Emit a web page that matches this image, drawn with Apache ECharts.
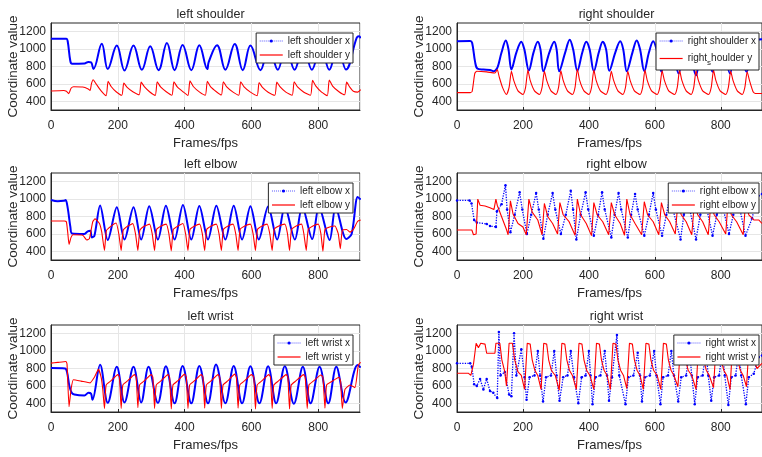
<!DOCTYPE html>
<html>
<head>
<meta charset="utf-8">
<title>Coordinate value</title>
<script src="https://cdn.jsdelivr.net/npm/echarts@6/dist/echarts.min.js"></script>
<style>
  html, body { margin: 0; padding: 0; background: #fff; }
  #main { width: 762px; height: 457px; }
</style>
</head>
<body>
<div id="main"></div>
<script>
// panel titles and legend names
var titles = ['left shoulder', 'right shoulder', 'left elbow', 'right elbow', 'left wrist', 'right wrist'];
var legendNames = [
  ['left shoulder x', 'left shoulder y'],
  ['right shoulder x', 'right_shoulder y'],
  ['left elbow x', 'left elbow y'],
  ['right elbow x', 'right elbow y'],
  ['left wrist x', 'left wrist y'],
  ['right wrist x', 'right wrist y']
];
var yTickLabels = [400, 600, 800, 1000, 1200];
var xTickLabels = [0, 200, 400, 600, 800];

// [frame, value]
var leftShoulderX = [[0,1120],[46,1118],[50,1090],[58,860],[63,832],[100,835],[112,852],[120,848],[127,772],[152,1062],[170,770],[197,1040],[220,755],[247,1040],[272,762],[297,1032],[322,758],[347,1070],[370,758],[394,1047],[420,758],[444,1045],[468,770],[472,850],[497,1045],[522,763],[550,1060],[574,758],[597,1040],[627,758],[652,1040],[679,763],[703,1040],[729,763],[755,1040],[781,763],[808,1040],[833,763],[858,1040],[883,765],[915,1130],[922,1148],[927,1125]];
var leftShoulderY = [[0,518],[38,525],[46,515],[53,488],[60,550],[68,568],[95,565],[110,545],[117,525],[121,600],[126,648],[135,600],[150,520],[165,465],[171,630],[180,570],[195,510],[212,470],[218,610],[228,560],[245,510],[264,475],[270,620],[280,565],[295,510],[312,468],[318,625],[328,565],[345,510],[362,470],[368,625],[378,565],[395,510],[410,468],[416,635],[426,570],[445,505],[462,470],[468,630],[478,565],[495,510],[510,472],[516,625],[526,565],[545,505],[562,470],[568,625],[578,565],[597,505],[617,465],[623,615],[633,560],[650,505],[670,470],[676,620],[686,565],[703,505],[722,470],[728,625],[738,565],[757,505],[777,470],[783,640],[793,575],[810,505],[827,465],[833,645],[843,575],[862,510],[879,475],[885,620],[895,560],[905,515],[918,505],[927,535]];

var rightShoulderX = [[0,1090],[40,1092],[46,1070],[55,850],[62,775],[80,765],[100,760],[112,745],[118,760],[124,800],[135,960],[148,1100],[156,1000],[165,765],[180,960],[195,1085],[204,1000],[218,755],[232,960],[245,1085],[253,1000],[262,745],[280,960],[295,1085],[302,1000],[310,745],[328,960],[342,1108],[352,1000],[365,750],[380,960],[392,1085],[402,1000],[415,745],[430,960],[442,1085],[452,1000],[462,750],[480,960],[495,1090],[504,1000],[515,745],[532,960],[545,1100],[555,1000],[568,745],[582,960],[595,1090],[605,1000],[620,740],[632,960],[645,1090],[655,1000],[672,720],[685,960],[695,1090],[705,1000],[725,700],[737,960],[748,1090],[758,1000],[775,740],[788,960],[800,1090],[810,1000],[828,720],[840,960],[850,1090],[860,1000],[878,740],[895,960],[908,1108],[925,1112]];
var rightShoulderY = [[0,500],[40,500],[46,515],[54,720],[60,745],[90,738],[115,725],[122,765],[128,680],[138,560],[150,478],[158,560],[165,745],[172,640],[185,520],[200,478],[208,560],[215,760],[222,640],[235,520],[250,478],[258,560],[265,745],[272,640],[285,520],[300,478],[308,560],[315,750],[322,640],[335,520],[350,478],[358,560],[365,770],[372,640],[385,520],[400,478],[408,560],[415,760],[422,640],[435,520],[452,478],[460,560],[468,745],[475,640],[488,520],[503,478],[511,560],[518,745],[525,640],[538,520],[555,478],[563,560],[570,760],[577,640],[590,520],[607,478],[615,560],[622,750],[629,640],[642,520],[660,478],[668,560],[675,755],[682,640],[695,520],[710,478],[718,560],[725,750],[732,640],[745,520],[763,478],[771,560],[778,755],[785,640],[798,520],[815,478],[823,560],[830,745],[837,640],[850,520],[865,478],[873,560],[880,740],[887,640],[898,510],[905,490],[925,490]];

var leftElbowX = [[0,990],[20,975],[38,980],[44,990],[50,900],[58,680],[63,605],[100,600],[110,630],[118,635],[122,560],[130,580],[147,926],[170,530],[197,907],[220,535],[247,905],[270,535],[294,918],[320,535],[344,925],[370,535],[395,933],[420,535],[444,920],[470,535],[495,925],[522,535],[547,925],[572,535],[597,918],[622,535],[650,915],[677,535],[700,915],[730,535],[752,915],[782,540],[802,915],[834,530],[852,910],[884,540],[900,600],[918,1025],[927,995]];
var leftElbowY = [[0,748],[40,748],[46,740],[50,620],[54,480],[60,560],[66,590],[95,585],[107,530],[115,545],[125,740],[132,773],[145,720],[152,620],[160,410],[166,640],[180,690],[195,725],[203,600],[210,410],[216,640],[230,690],[245,718],[253,600],[260,410],[266,640],[280,690],[295,712],[303,600],[310,410],[316,650],[330,690],[345,712],[353,600],[360,405],[366,650],[380,690],[395,720],[403,600],[410,410],[416,650],[430,690],[445,712],[453,600],[460,410],[466,650],[480,690],[495,712],[503,600],[510,410],[516,650],[530,690],[545,712],[553,600],[560,410],[566,650],[580,690],[597,712],[605,600],[612,410],[618,650],[632,690],[647,712],[655,600],[662,410],[668,650],[682,690],[700,712],[708,600],[714,410],[720,650],[734,690],[750,712],[757,600],[764,410],[770,650],[784,690],[800,712],[808,600],[814,400],[820,650],[834,680],[850,690],[860,600],[866,430],[872,640],[885,650],[895,620],[905,650],[918,745],[927,760]];

var rightElbowX = [[0,985],[38,985],[44,950],[52,760],[60,730],[90,715],[100,690],[118,680],[121,860],[135,940],[147,1160],[152,880],[162,620],[175,820],[190,1078],[198,880],[212,600],[225,820],[240,1070],[248,880],[262,545],[275,820],[290,1070],[298,880],[315,600],[330,820],[345,1097],[352,880],[362,537],[375,820],[390,1078],[398,880],[415,580],[428,820],[440,1078],[448,880],[468,560],[478,820],[490,1070],[498,880],[518,560],[528,820],[540,1060],[548,880],[568,580],[582,820],[595,1070],[603,880],[622,580],[635,820],[647,1070],[655,880],[678,537],[688,820],[698,1070],[706,880],[725,537],[738,820],[750,1060],[758,880],[775,580],[788,820],[800,1060],[808,880],[825,600],[838,820],[850,1060],[858,880],[875,580],[895,780],[910,1020],[925,1060]];
var rightElbowY = [[0,645],[45,645],[50,590],[58,600],[63,1000],[70,930],[85,920],[100,900],[112,880],[118,1000],[122,930],[135,800],[150,650],[155,590],[162,980],[170,830],[185,720],[200,680],[210,590],[218,1000],[228,850],[245,760],[258,590],[265,950],[275,800],[290,720],[305,600],[312,960],[322,820],[340,740],[358,585],[365,1000],[375,820],[392,720],[408,580],[415,960],[425,820],[442,740],[460,590],[468,960],[478,820],[495,720],[508,585],[515,1000],[525,820],[540,720],[560,590],[568,970],[578,820],[595,740],[612,590],[620,960],[630,820],[645,740],[662,600],[670,970],[680,820],[695,740],[712,590],[720,960],[730,820],[745,740],[762,590],[770,960],[780,820],[795,740],[815,600],[822,970],[832,820],[848,740],[868,590],[875,960],[885,820],[900,760],[915,760],[925,720]];

var leftWristX = [[0,805],[42,800],[48,760],[55,600],[62,520],[70,500],[100,490],[112,520],[120,510],[124,440],[147,842],[170,405],[197,820],[220,410],[247,820],[270,410],[292,820],[320,405],[344,825],[370,400],[394,830],[420,400],[444,830],[470,400],[494,845],[522,400],[547,830],[572,400],[597,825],[624,400],[650,825],[674,400],[700,825],[727,395],[754,820],[777,400],[804,820],[830,400],[854,820],[882,410],[918,840],[927,810]];
var leftWristY = [[0,862],[20,870],[45,880],[48,850],[54,360],[60,560],[67,670],[90,655],[117,635],[130,700],[142,790],[150,700],[155,560],[160,340],[165,610],[180,660],[200,730],[205,700],[210,340],[215,610],[230,660],[250,730],[255,700],[260,350],[265,610],[280,660],[300,730],[305,700],[310,340],[315,610],[330,660],[350,730],[355,700],[360,335],[365,610],[380,660],[400,735],[405,700],[410,340],[415,610],[430,660],[450,730],[455,700],[460,345],[465,610],[480,660],[500,730],[505,700],[510,340],[515,610],[530,660],[550,735],[555,700],[560,345],[565,610],[580,660],[600,730],[607,700],[612,335],[617,610],[632,660],[652,730],[657,700],[662,340],[667,610],[682,660],[704,730],[709,700],[714,335],[719,610],[734,660],[756,730],[761,700],[767,340],[772,610],[787,660],[808,725],[814,700],[820,345],[825,610],[840,650],[862,700],[867,650],[872,340],[880,560],[895,610],[910,580],[920,840],[927,870]];

var rightWristX = [[0,860],[40,860],[45,820],[52,620],[60,600],[70,680],[80,560],[90,680],[100,540],[110,520],[122,460],[127,1220],[132,720],[145,760],[158,500],[165,480],[173,1205],[180,720],[195,1020],[205,700],[211,440],[220,700],[235,720],[245,1000],[252,720],[261,420],[270,700],[285,720],[295,1000],[302,720],[311,430],[322,700],[335,720],[345,1000],[355,700],[368,400],[378,700],[390,720],[400,1000],[405,720],[411,390],[420,700],[435,720],[448,1000],[455,720],[461,430],[470,700],[485,1185],[492,720],[511,390],[520,700],[535,720],[548,980],[555,720],[561,420],[570,700],[585,720],[598,1000],[605,720],[617,390],[625,700],[640,720],[650,1000],[658,720],[671,420],[680,700],[695,720],[705,1000],[712,720],[721,390],[730,700],[745,720],[755,1000],[762,720],[771,430],[780,700],[795,720],[805,1000],[812,720],[823,380],[832,700],[845,720],[855,1000],[862,720],[876,390],[885,700],[900,740],[915,930],[925,950]];
var rightWristY = [[0,745],[35,745],[42,720],[50,850],[58,1090],[65,1040],[72,1090],[85,1080],[90,975],[115,975],[118,1090],[130,1090],[136,900],[145,760],[150,600],[158,1090],[168,1090],[175,900],[185,760],[195,720],[205,560],[213,1090],[222,1080],[228,900],[236,780],[245,720],[255,560],[263,1090],[272,1080],[278,900],[286,780],[298,720],[310,550],[318,1090],[327,1080],[333,900],[341,780],[350,720],[362,560],[370,1090],[379,1080],[385,900],[393,780],[403,720],[415,560],[423,1090],[432,1080],[438,900],[446,780],[455,720],[465,560],[473,1090],[482,1080],[488,900],[496,780],[505,720],[515,570],[523,1090],[532,1080],[538,900],[546,780],[555,720],[565,560],[573,1090],[582,1080],[588,900],[596,780],[607,720],[618,560],[626,1090],[635,1080],[641,900],[649,780],[658,720],[670,590],[678,1090],[687,1080],[693,900],[701,780],[712,720],[725,560],[733,1090],[742,1080],[748,900],[756,780],[765,720],[778,580],[786,1090],[795,1080],[801,900],[809,780],[818,720],[828,560],[836,1090],[845,1080],[851,900],[859,780],[868,720],[878,590],[886,1090],[895,1080],[900,900],[910,800],[925,860]];

var panelData = [
  [leftShoulderX, leftShoulderY],
  [rightShoulderX, rightShoulderY],
  [leftElbowX, leftElbowY],
  [rightElbowX, rightElbowY],
  [leftWristX, leftWristY],
  [rightWristX, rightWristY]
];

var FONT = 'Liberation Sans, Arial, Helvetica, sans-serif';
var TXT = '#262626';
var colLeft = [51, 457];
var rowTop = [23, 173, 325];
var plotW = 309, plotH = 87;
// blue smoothing per panel (messy right elbow/wrist drawn straight)
var blueSmooth = [0.4, 0.35, 0.3, 0, 0.35, 0];
var redSmooth = [0.2, 0.2, 0.15, 0, 0.15, 0];

function xLabel(v) { return xTickLabels.indexOf(v) >= 0 ? String(v) : ''; }
function yLabel(v) { return yTickLabels.indexOf(v) >= 0 ? String(v) : ''; }
function legendText(name) {
  if (name === 'right_shoulder y') return '{a|right}{s|s}{a|houlder y}';
  return name;
}

function buildOption() {
  var grids = [], xAxes = [], yAxes = [], series = [], legends = [], titleList = [];
  for (var i = 0; i < 6; i++) {
    var c = i % 2, r = Math.floor(i / 2);
    var gx = colLeft[c], gy = rowTop[r];
    grids.push({ left: gx, top: gy, width: plotW, height: plotH, show: true,
      borderColor: TXT, borderWidth: 1, backgroundColor: '#fff' });
    xAxes.push({
      type: 'value', gridIndex: i, min: 0, max: 925, interval: 200,
      name: 'Frames/fps', nameLocation: 'middle', nameGap: 27, nameMoveOverlap: false,
      nameTextStyle: { fontFamily: FONT, fontSize: 13, color: TXT },
      axisLine: { onZero: false, lineStyle: { color: TXT } },
      axisTick: { inside: true, length: 3, lineStyle: { color: TXT } },
      axisLabel: { margin: 10, fontFamily: FONT, fontSize: 12, color: TXT, showMaxLabel: false, formatter: xLabel },
      splitLine: { show: true, lineStyle: { color: '#e6e6e6', width: 1 } }
    });
    yAxes.push({
      type: 'value', gridIndex: i, min: 300, max: 1300, interval: 100,
      name: 'Coordinate value', nameLocation: 'middle', nameGap: 31, nameMoveOverlap: false,
      nameTextStyle: { fontFamily: FONT, fontSize: 13.5, color: TXT },
      axisLine: { onZero: false, lineStyle: { color: TXT } },
      axisTick: { show: false },
      axisLabel: { margin: 5, fontFamily: FONT, fontSize: 12, color: TXT, formatter: yLabel },
      splitLine: { show: true, lineStyle: { color: ['rgba(0,0,0,0)', '#e6e6e6'], width: 1 } }
    });
    titleList.push({ text: titles[i], left: gx + plotW / 2, top: gy - 20, textAlign: 'center',
      textStyle: { fontFamily: FONT, fontSize: 12.5, fontWeight: 'normal', color: TXT } });

    var messy = (i === 3 || i === 5);
    series.push({
      name: legendNames[i][0], type: 'line', xAxisIndex: i, yAxisIndex: i,
      data: panelData[i][0], smooth: blueSmooth[i],
      symbol: 'circle', symbolSize: messy ? 2.5 : 3, showSymbol: messy,
      itemStyle: { color: '#0000ff' },
      lineStyle: { color: '#0000ff', width: messy ? 1.3 : 2, type: messy ? 'dotted' : 'solid' },
      z: 2
    });
    series.push({
      name: legendNames[i][1], type: 'line', xAxisIndex: i, yAxisIndex: i,
      data: panelData[i][1], smooth: redSmooth[i],
      symbol: 'none', itemStyle: { color: '#ff0000' },
      lineStyle: { color: '#ff0000', width: 1.1 },
      z: 3
    });
    legends.push({
      data: [
        { name: legendNames[i][0], itemStyle: { color: '#0000ff', borderWidth: 0 },
          lineStyle: { type: 'dotted', width: 1, color: '#5a5aff' } },
        { name: legendNames[i][1], itemStyle: { color: 'rgba(0,0,0,0)', borderWidth: 0 },
          lineStyle: { type: 'solid', width: 1.2, color: '#ff0000' } }
      ],
      orient: 'vertical', right: c === 0 ? 409 : 3, top: gy + 10,
      backgroundColor: '#fff', borderColor: TXT, borderWidth: 1,
      padding: [3, 3, 3, 3], itemGap: 4, itemWidth: 23, itemHeight: 4,
      textStyle: { fontFamily: FONT, fontSize: 10, color: TXT,
        rich: { a: { fontFamily: FONT, fontSize: 10, color: TXT, lineHeight: 12 },
                s: { fontFamily: FONT, fontSize: 8, color: TXT, lineHeight: 12, padding: [9, 0, 0, 0] } } },
      formatter: legendText,
      selectedMode: false
    });
  }
  return {
    animation: false,
    backgroundColor: '#fff',
    title: titleList,
    grid: grids,
    xAxis: xAxes,
    yAxis: yAxes,
    legend: legends,
    series: series
  };
}

var chart = echarts.init(document.getElementById('main'));
chart.setOption(buildOption());
</script>
</body>
</html>
